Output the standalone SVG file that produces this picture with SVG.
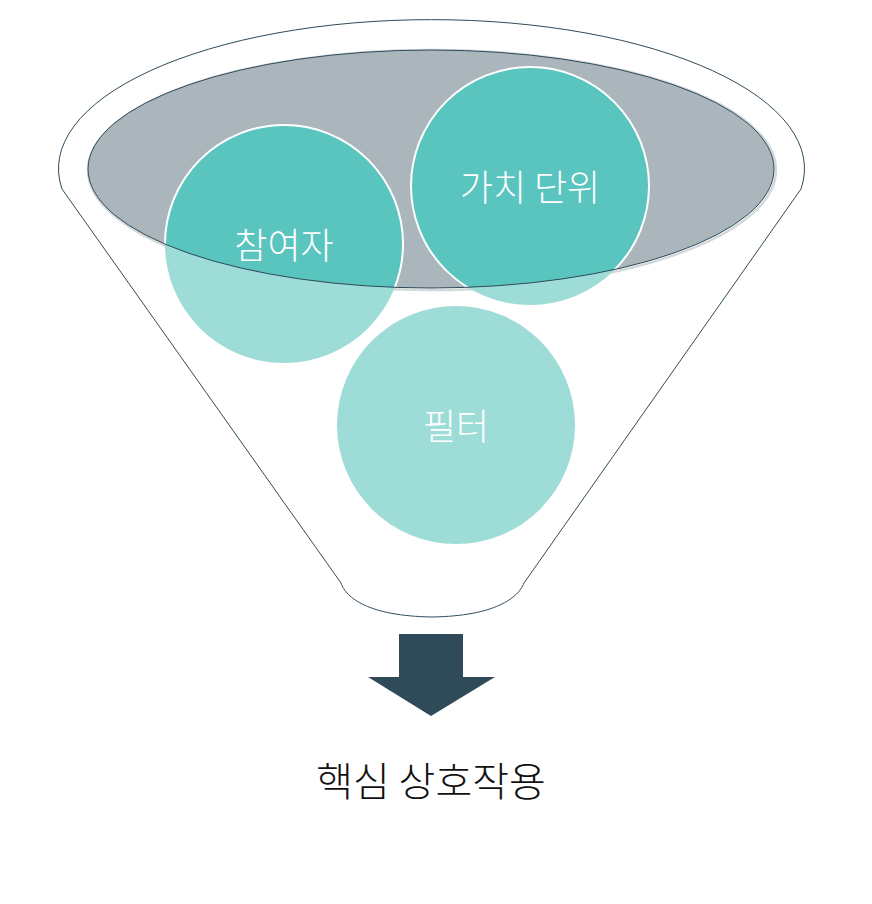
<svg xmlns="http://www.w3.org/2000/svg" width="872" height="904" viewBox="0 0 872 904">
  <style>
    .outline { fill: none; stroke: #2F4B5B; stroke-width: 1; }
    .light { fill: #9EDCD8; }
    .dark { fill: #5AC4BE; stroke: #FFFFFF; stroke-width: 2; }
    .label { font-family: "Noto Sans CJK KR", "Noto Sans", sans-serif; font-size: 36px; font-weight: 300; fill: #FFFFFF; text-anchor: middle; }
    .caption { font-family: "Noto Sans CJK KR", "Noto Sans", sans-serif; font-size: 40px; font-weight: 300; fill: #111111; text-anchor: middle; }
  </style>
  <defs>
    <clipPath id="topClip">
      <ellipse cx="431" cy="169" rx="343" ry="119"/>
    </clipPath>
  </defs>
  <rect width="872" height="904" fill="#FFFFFF"/>

  <g id="funnel">
    <path class="outline" d="M62,189 A373,149 0 1,1 801,189 L524,583 C518,598 495,616 432,617 C369,616 346,598 341,583 Z" fill="#FFFFFF"/>
  </g>

  <g id="funnel-top">
    <ellipse cx="432" cy="170" rx="344" ry="120" fill="none" stroke="#D3D8DB" stroke-width="2.5"/>
    <ellipse cx="431" cy="169" rx="343" ry="119" fill="#ABB6BC"/>
  </g>

  <g id="node-participants">
    <circle class="light" cx="284" cy="244" r="119"/>
    <circle class="dark" cx="284" cy="244" r="119" clip-path="url(#topClip)"/>
  </g>

  <g id="node-value-unit">
    <circle class="light" cx="530" cy="186" r="119"/>
    <circle class="dark" cx="530" cy="186" r="119" clip-path="url(#topClip)"/>
  </g>

  <g id="node-filter">
    <circle class="light" cx="456" cy="425" r="119"/>
  </g>

  <g id="funnel-rim">
    <ellipse class="outline" cx="431" cy="169" rx="343" ry="119"/>
  </g>

  <g id="labels">
    <text class="label" x="284" y="259">참여자</text>
    <text class="label" x="530" y="201">가치 단위</text>
    <text class="label" x="456" y="440">필터</text>
  </g>

  <g id="connectors">
    <path d="M399,634 H463 V677 H495 L431,716 L368,677 H399 Z" fill="#2F4B5A"/>
  </g>

  <g id="node-result">
    <text class="caption" x="431" y="796">핵심 상호작용</text>
  </g>
</svg>
